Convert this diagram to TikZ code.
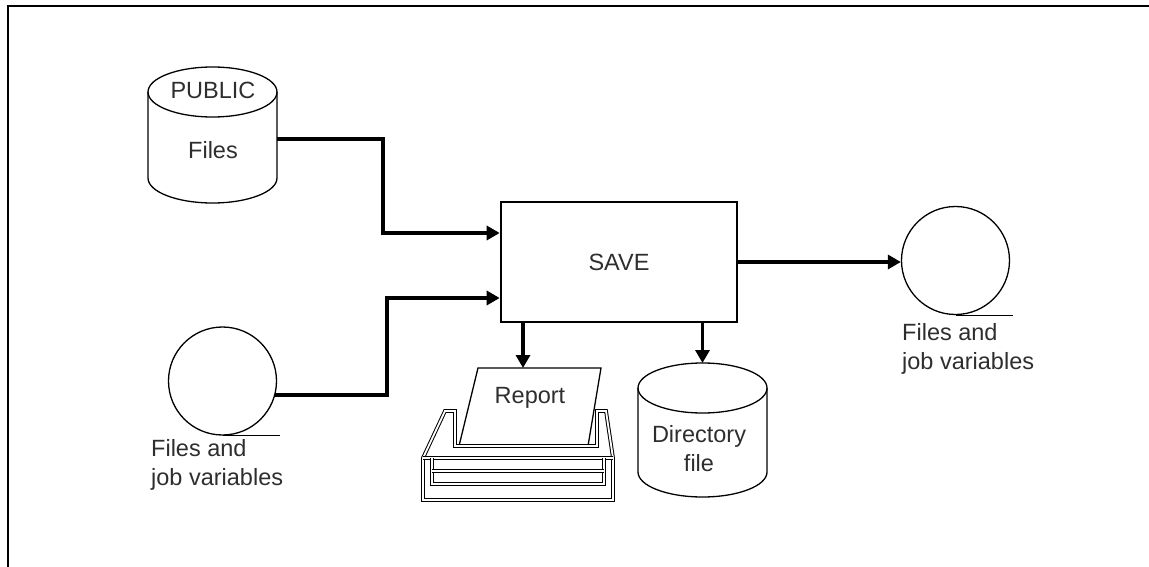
\documentclass[tikz,border=0pt]{standalone}
\usepackage{fontspec}
\setmainfont{Liberation Sans}
\usetikzlibrary{calc,positioning,arrows.meta}
\definecolor{inkgray}{rgb}{0.18,0.18,0.18}
\tikzset{
	>={Triangle[length=13pt,width=14pt]},
	flow/.style={draw, line width=3.6pt, ->},
	savebox/.style={
		rectangle,
		draw, line width=2.6pt,
		minimum width=236pt,
		minimum height=120pt},
	drumbox/.style={
		rectangle,
		minimum width=129pt,
		minimum height=#1,
		inner sep=0pt, outer sep=0pt},
	drumline/.style={draw, line width=1.3pt},
	reel/.style={circle, draw, line width=1.3pt, minimum size=108pt, inner sep=0pt},
	lbl/.style={text=inkgray, inner sep=0pt, font=\fontsize{23.5}{29}\selectfont},
	prn/.style={draw, double, double distance=1.8pt, line width=1pt},
}
% cylinder round a named box: name, position, height
\newcommand*\drum[3]{
	\node[drumbox=#3] (#1) at (#2) {};
	\draw[drumline] ($(#1.north west)+(0,25)$) -- ($(#1.south west)+(0,-25)$)
		arc[start angle=180, end angle=0, x radius=64.5, y radius=25]
		-- ($(#1.north east)+(0,25)$);
	\draw[drumline] ($(#1.north)+(0,25)$) ellipse[x radius=64.5, y radius=25];
}

\begin{document}
\begin{tikzpicture}[x=1pt,y=-1pt]
\useasboundingbox (0,0) rectangle (1149,567);
\draw[line width=2.4pt] (8,567) -- (8,6) -- (1149,6);

% inputs
\drum{pub}{212.5,135}{136pt}
\node[lbl] (pubtop) at (213,90) {PUBLIC};
\node[lbl] (pubfiles) at (213,150) {Files};

\node[reel] (reelin) at (222.5,381) {};
\draw[line width=1.3pt] (reelin.south) -- ++(57,0);
\node[lbl, align=left, anchor=west] (reelintxt) at (151,465) {Files and\\job variables};

\node[savebox, lbl] (save) at (619,262) {SAVE};

% outputs
\node[reel] (reelout) at (955.5,260.5) {};
\draw[line width=1.3pt] (reelout.south) -- ++(57,0);
\node[lbl, align=left, anchor=west] (reelouttxt) at (902,349) {Files and\\job variables};

\drum{dir}{702.5,430}{134pt}
\node[lbl, align=center] (dirtxt) at (699,449) {Directory\\file};

% printer
\draw[line width=1.3pt, fill=white] (478,368) -- (601,368) -- (588,446) -- (459,446) -- cycle;
\node[lbl] (report) at (530,398) {Report};
\coordinate (paper) at (523,368);
\draw[prn] (423,500) -- (423,458) -- (445,411) -- (455,411) -- (455,446) -- (597,446)
	-- (597,411) -- (606,411) -- (613,458) -- (613,500) -- cycle;
\draw[prn] (423,458) -- (613,458);
\draw[prn] (432,458) -- (432,484) -- (604,484) -- (604,458);
\draw[prn] (432,471) -- (604,471);

% connectors
\draw[flow] ($(pub.east)+(0,4)$) -- ++(106,0) |- ($(save.west)+(0,-29)$);
\draw[flow] (reelin.-15) -- ++(112,0) |- ($(save.west)+(0,36)$);
\draw[flow] (save.east) -- (save.east -| reelout.west);
\draw[flow] (save.south -| paper) -- (paper);
\draw[flow] (save.south -| dir.north) -- (dir.north);
\end{tikzpicture}
\end{document}
